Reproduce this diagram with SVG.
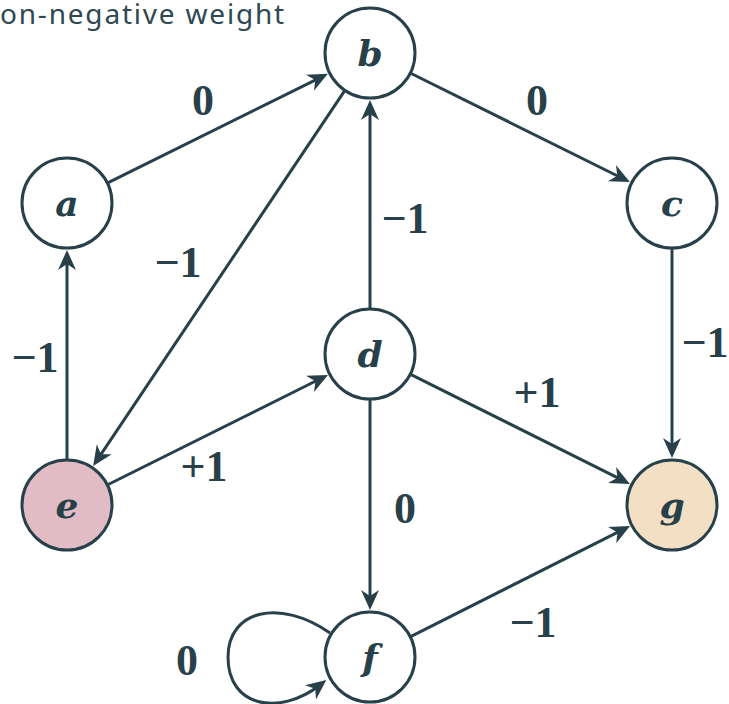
<svg xmlns="http://www.w3.org/2000/svg" width="729" height="704" viewBox="0 0 729 704">
  <style>
    .node circle { fill: #ffffff; stroke: #27404a; stroke-width: 3; }
    .node text { font-family: "DejaVu Serif", "Liberation Serif", serif; font-style: italic; font-weight: bold; font-size: 36px; fill: #27404a; text-anchor: middle; dominant-baseline: central; }
    .edge { fill: none; stroke: #27404a; stroke-width: 3; marker-end: url(#arrow); }
    .label { font-family: "Liberation Serif", "DejaVu Serif", serif; font-weight: bold; font-size: 44px; fill: #27404a; text-anchor: middle; dominant-baseline: central; }
    .title { font-family: "Noto Sans", "Open Sans", sans-serif; font-size: 28px; letter-spacing: 1.8px; fill: #2f4852; }
  </style>
  <defs>
    <marker id="arrow" markerUnits="userSpaceOnUse" viewBox="-13 -10 23 20" refX="0" refY="0" markerWidth="23" markerHeight="20" orient="auto">
      <path d="M-12,-9 L8,0 L-12,9 L-6,0 Z" fill="#27404a"/>
    </marker>
  </defs>

  <text class="title" x="0" y="24">on-negative weight</text>

  <g id="connectors">
    <line class="edge" x1="108.2" y1="182.6" x2="320.7" y2="77.4"/>
    <line class="edge" x1="411.2" y1="73.5" x2="622.7" y2="178.5"/>
    <line class="edge" x1="344.4" y1="91.2" x2="97.6" y2="459.3"/>
    <line class="edge" x1="370" y1="308" x2="370" y2="108"/>
    <line class="edge" x1="67" y1="459" x2="67" y2="258"/>
    <line class="edge" x1="672" y1="249" x2="672" y2="450"/>
    <line class="edge" x1="370" y1="400" x2="370" y2="602"/>
    <line class="edge" x1="108.2" y1="484.5" x2="320.8" y2="378.5"/>
    <line class="edge" x1="411.1" y1="374.6" x2="622.8" y2="480.4"/>
    <line class="edge" x1="411.1" y1="636.3" x2="622.9" y2="529.7"/>
    <path class="edge" d="M330,633 C280,598 228,610 228,657 C228,708 280,716 320,685"/>

    <text class="label" x="203" y="100">0</text>
    <text class="label" x="537" y="100">0</text>
    <text class="label" x="178" y="262">−1</text>
    <text class="label" x="405" y="218">−1</text>
    <text class="label" x="35" y="357">−1</text>
    <text class="label" x="705" y="342">−1</text>
    <text class="label" x="204" y="466">+1</text>
    <text class="label" x="537" y="392">+1</text>
    <text class="label" x="405" y="508">0</text>
    <text class="label" x="533" y="622">−1</text>
    <text class="label" x="187" y="660">0</text>
  </g>

  <g id="node-a" class="node"><circle cx="67" cy="203" r="45"/><text x="67" y="203">a</text></g>
  <g id="node-b" class="node"><circle cx="370" cy="53" r="45"/><text x="370" y="53">b</text></g>
  <g id="node-c" class="node"><circle cx="672" cy="203" r="45"/><text x="672" y="203">c</text></g>
  <g id="node-d" class="node"><circle cx="370" cy="354" r="45"/><text x="370" y="354">d</text></g>
  <g id="node-e" class="node"><circle cx="67" cy="505" r="45" style="fill:#e1bcc4"/><text x="67" y="505">e</text></g>
  <g id="node-f" class="node"><circle cx="370" cy="657" r="45"/><text x="370" y="657">f</text></g>
  <g id="node-g" class="node"><circle cx="672" cy="505" r="45" style="fill:#f3dfc3"/><text x="672" y="505">g</text></g>
</svg>
